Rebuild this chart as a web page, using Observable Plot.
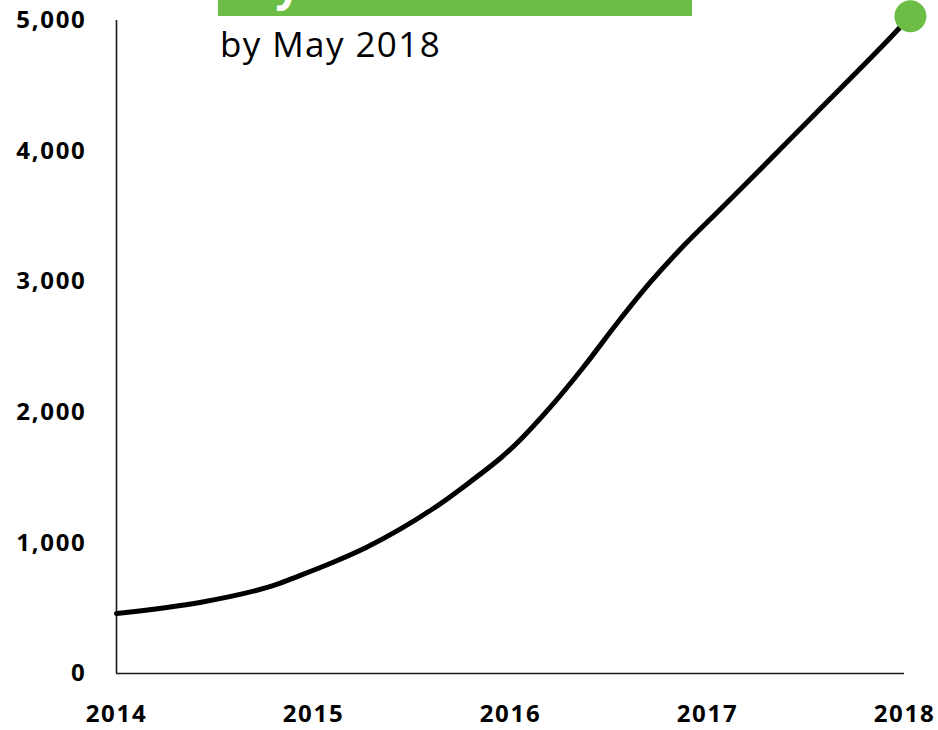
<!DOCTYPE html>
<html>
<head>
<meta charset="utf-8">
<script src="https://cdn.jsdelivr.net/npm/d3@7"></script>
<script src="https://cdn.jsdelivr.net/npm/@observablehq/plot@0.6"></script>
<style>
  html, body { margin: 0; padding: 0; background: #fff; }
  #wrap { position: relative; width: 938px; height: 730px; overflow: hidden; }
  #overlay { position: absolute; left: 0; top: 0; pointer-events: none; }
</style>
</head>
<body>
<div id="wrap"></div>
<script>
// Data
const years  = [2014.00, 2014.43, 2014.77, 2014.93, 2015.10, 2015.27, 2015.44, 2015.61, 2015.78, 2015.95,
                2016.05, 2016.20, 2016.37, 2016.54, 2016.71, 2016.88, 2017.05, 2017.20, 2017.54, 2017.88, 2018.03];
const values = [459, 546, 661, 750, 852, 967, 1105, 1265, 1450, 1650,
                1790, 2035, 2345, 2680, 2996, 3277, 3532, 3757, 4275, 4793, 5033];
const yTicks = [0, 1000, 2000, 3000, 4000, 5000];
const xTicks = [2014, 2015, 2016, 2017, 2018];
const subtitle = "by May 2018";
const bannerText = "By";

const green = "#6cbd45";
const series = years.map((t, i) => ({year: t, value: values[i]}));
const last = series[series.length - 1];

const chart = Plot.plot({
  width: 938,
  height: 730,
  marginLeft: 116,
  marginRight: 34,
  marginTop: 20,
  marginBottom: 57,
  style: {fontFamily: "'Open Sans', sans-serif", letterSpacing: "1.7px", color: "#000", background: "#fff"},
  x: {domain: [2014, 2018]},
  y: {domain: [0, 5000]},
  marks: [
    Plot.axisY({ticks: yTicks, tickSize: 0, tickPadding: 30, tickFormat: d3.format(","),
                fontSize: 24, fontWeight: "bold", label: null}),
    Plot.axisX({ticks: xTicks, tickSize: 0, tickPadding: 31, tickFormat: d => String(d),
                fontSize: 24, fontWeight: "bold", label: null}),
    Plot.ruleX([2014], {y1: 0, y2: 5000, stroke: "#1a1a1a", strokeWidth: 1.6}),
    Plot.ruleY([0], {stroke: "#1a1a1a", strokeWidth: 1.6}),
    Plot.line(series, {x: "year", y: "value", curve: "catmull-rom", stroke: "#000", strokeWidth: 5}),
    Plot.dot([last], {x: "year", y: "value", r: 16, fill: green, stroke: "none"})
  ]
});

const wrap = document.getElementById("wrap");
wrap.appendChild(chart);

// Annotation overlay: green banner (clipped at top, as in the reference) and subtitle
const ns = "http://www.w3.org/2000/svg";
const ov = document.createElementNS(ns, "svg");
ov.setAttribute("id", "overlay");
ov.setAttribute("width", 938);
ov.setAttribute("height", 730);
const rect = document.createElementNS(ns, "rect");
rect.setAttribute("x", 218);
rect.setAttribute("y", -60);
rect.setAttribute("width", 474);
rect.setAttribute("height", 76);
rect.setAttribute("fill", green);
ov.appendChild(rect);
const bt = document.createElementNS(ns, "text");
bt.setAttribute("x", 246);
bt.setAttribute("y", 0);
bt.setAttribute("fill", "#fff");
bt.setAttribute("font-family", "'Open Sans', sans-serif");
bt.setAttribute("font-weight", "bold");
bt.setAttribute("font-size", 44);
bt.textContent = bannerText;
ov.appendChild(bt);
const st = document.createElementNS(ns, "text");
st.setAttribute("x", 220);
st.setAttribute("y", 57);
st.setAttribute("fill", "#000");
st.setAttribute("font-family", "'Open Sans', sans-serif");
st.setAttribute("font-size", 35);
st.setAttribute("letter-spacing", "1.4px");
st.textContent = subtitle;
ov.appendChild(st);
wrap.appendChild(ov);
</script>
</body>
</html>
